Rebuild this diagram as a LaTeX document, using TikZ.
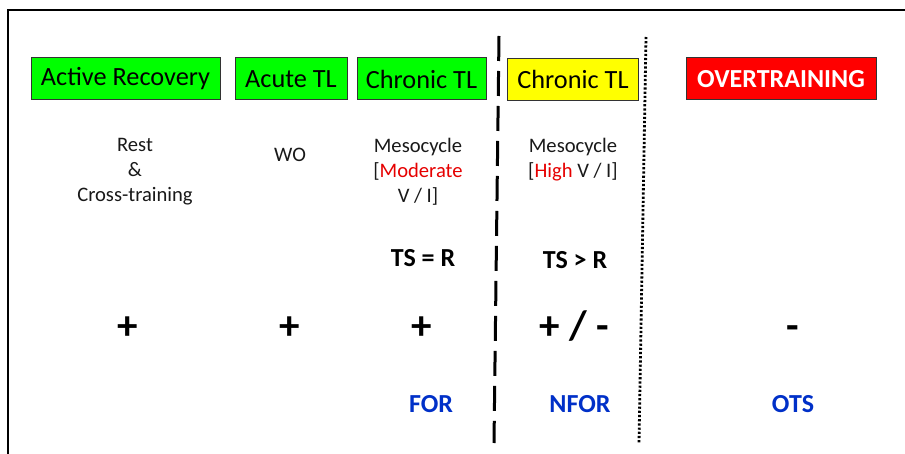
\documentclass[tikz,border=0pt]{standalone}
\usepackage{fontspec}
\setmainfont{Carlito}
\definecolor{boxgreen}{RGB}{0,255,0}
\definecolor{boxyellow}{RGB}{255,255,0}
\definecolor{boxred}{RGB}{255,0,0}
\definecolor{txtred}{RGB}{230,0,0}
\definecolor{txtblue}{RGB}{0,48,200}
\begin{document}
\begin{tikzpicture}[x=1pt,y=-1pt,
  labelbox/.style={draw=black!80,line width=1pt,inner sep=0pt,minimum height=42pt,font=\fontsize{26.3}{30}\selectfont},
  small/.style={font=\fontsize{20.6}{25}\selectfont,align=center,text=black!90,inner sep=0pt},
  bigbold/.style={font=\fontsize{26}{30}\selectfont\bfseries,inner sep=0pt},
  sign/.style={font=\fontsize{41}{44}\selectfont\bfseries,inner sep=0pt,anchor=base},
  state/.style={font=\fontsize{26}{30}\selectfont\bfseries,text=txtblue,inner sep=0pt}]
\useasboundingbox (0,0) rectangle (905,454);
\fill[white] (0,0) rectangle (905,454);
\begin{scope}
\clip (0,0) rectangle (905,454);
\draw[line width=2pt] (8,470) -- (8,10) -- (920,10);
\end{scope}
% boxes
\node[labelbox,fill=boxgreen,minimum width=189pt] (ar) at (125.5,79) {Active Recovery};
\node[labelbox,fill=boxgreen,minimum width=112pt] (atl) at (291,79) {Acute TL};
\node[labelbox,fill=boxgreen,minimum width=129pt] (ctl) at (421.5,79) {Chronic TL};
\node[labelbox,fill=boxyellow,minimum width=131pt] (cth) at (573,79.5) {Chronic TL};
\node[labelbox,fill=boxred,minimum width=190pt,text=white,font=\fontsize{26}{30}\selectfont\bfseries] (ot) at (781,79) {OVERTRAINING};
% separators
\coordinate (dtop) at (499,36);
\coordinate (dbot) at (494,443);
\draw[line width=3pt,dash pattern=on 25pt off 10pt] (dtop) -- (dbot);
\coordinate (ptop) at (646,37);
\coordinate (pbot) at (639,443);
\draw[line width=2.8pt,dash pattern=on 2.2pt off 2pt] (ptop) -- (pbot);
% descriptions
\node[small] (d1) at (135,172) {Rest\\\&\\Cross-training};
\node[small] (d2) at (290,155) {WO};
\node[small] (d3) at (418,172) {Mesocycle\\{[}\textcolor{txtred}{Moderate}\\V / I]};
\node[small] (d4) at (573,159.5) {Mesocycle\\{[}\textcolor{txtred}{High} V / I]};
% TS
\node[bigbold] (ts1) at (423,258) {TS = R};
\node[bigbold] (ts2) at (575,260) {TS > R};
% signs
\node[sign] (s1) at (128,339) {+};
\node[sign] (s2) at (290,339) {+};
\node[sign] (s3) at (422,339) {+};
\node[sign] (s4) at (574,339) {+ / -};
\node[sign] (s5) at (793,339) {-};
% states
\node[state] (f1) at (431,404) {FOR};
\node[state] (f2) at (580,404) {NFOR};
\node[state] (f3) at (793,404) {OTS};
\end{tikzpicture}
\end{document}
